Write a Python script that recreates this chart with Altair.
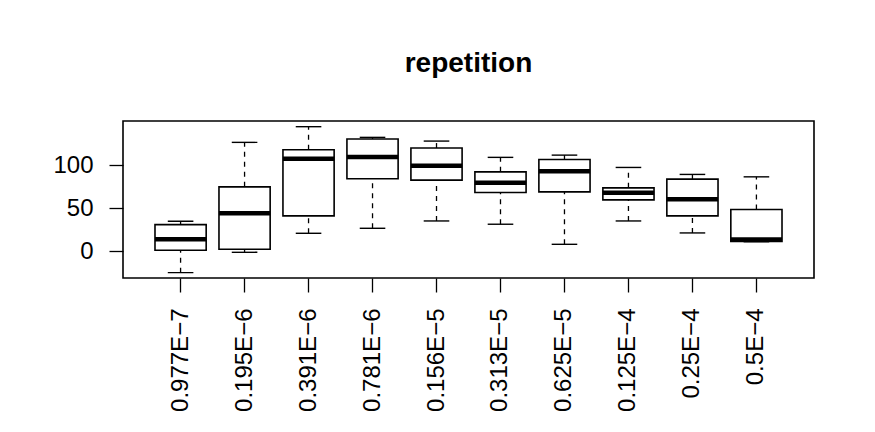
import altair as alt
import pandas as pd

categories = ["0.977E−7", "0.195E−6", "0.391E−6", "0.781E−6", "0.156E−5",
              "0.313E−5", "0.625E−5", "0.125E−4", "0.25E−4", "0.5E−4"]
lower = [-24.8, -1.2, 20.9, 26.7, 35.2, 31.4, 8.1, 35.2, 21.3, 11.1]
q1 = [1.2, 2.3, 41.1, 84.1, 82.6, 68.2, 69.0, 59.7, 41.1, 11.3]
median = [14.0, 44.2, 107.4, 109.3, 99.2, 79.4, 93.0, 67.8, 60.5, 13.6]
q3 = [31.0, 74.8, 117.8, 130.3, 119.8, 92.2, 106.6, 73.6, 83.7, 48.5]
upper = [34.9, 126.4, 144.6, 132.2, 127.9, 109.0, 111.6, 97.3, 89.2, 86.4]

df = pd.DataFrame({"cat": categories, "lower": lower, "q1": q1,
                   "median": median, "q3": q3, "upper": upper})

FONT = "Liberation Sans"
W, H = 691, 157
step = W / 10.8

xenc = alt.X("cat:N", sort=categories, title=None,
             scale=alt.Scale(paddingInner=0, paddingOuter=0.4),
             axis=alt.Axis(labelAngle=270, labelAlign="right", labelBaseline="middle",
                           labelFontSize=24, labelFont=FONT, labelColor="black",
                           tickSize=14, tickColor="black", tickWidth=1.3,
                           labelPadding=16, domain=False, grid=False))
yscale = alt.Scale(domain=[-31, 151.2], nice=False, zero=False)
yaxis = alt.Axis(values=[0, 50, 100], labelFontSize=24, labelFont=FONT,
                 labelColor="black", tickSize=14, tickColor="black", tickWidth=1.3,
                 labelPadding=16, domain=False, grid=False, title=None)

base = alt.Chart(df)

wh_up = base.mark_rule(color="black", strokeWidth=1.3, strokeDash=[5, 5]).encode(
    x=xenc, y=alt.Y("q3:Q", scale=yscale, axis=yaxis), y2="upper:Q")
wh_lo = base.mark_rule(color="black", strokeWidth=1.3, strokeDash=[5, 5]).encode(
    x=xenc, y=alt.Y("lower:Q", scale=yscale, axis=yaxis), y2="q1:Q")
box = base.mark_bar(fill="white", stroke="black", strokeWidth=1.6,
                    width=alt.RelativeBandSize(0.8)).encode(
    x=xenc, y=alt.Y("q1:Q", scale=yscale, axis=yaxis), y2="q3:Q")
med = base.mark_tick(color="black", thickness=4.5, size=step * 0.8, opacity=1).encode(
    x=xenc, y=alt.Y("median:Q", scale=yscale, axis=yaxis))
cap_up = base.mark_tick(color="black", thickness=1.4, size=step * 0.4, opacity=1).encode(
    x=xenc, y=alt.Y("upper:Q", scale=yscale, axis=yaxis))
cap_lo = base.mark_tick(color="black", thickness=1.4, size=step * 0.4, opacity=1).encode(
    x=xenc, y=alt.Y("lower:Q", scale=yscale, axis=yaxis))

chart = alt.layer(wh_up, wh_lo, box, med, cap_up, cap_lo).properties(
    width=W, height=H,
    title=alt.TitleParams("repetition", fontSize=28, fontWeight="bold", font=FONT,
                          anchor="middle", baseline="alphabetic", offset=21, color="black"),
    autosize=alt.AutoSizeParams(type="none"),
    padding={"left": 123, "top": 121, "right": 61, "bottom": 154},
    background="white",
).configure_view(stroke="black", strokeWidth=1.6)

chart.save("out.html", embed_options={"renderer": "svg", "actions": False})
